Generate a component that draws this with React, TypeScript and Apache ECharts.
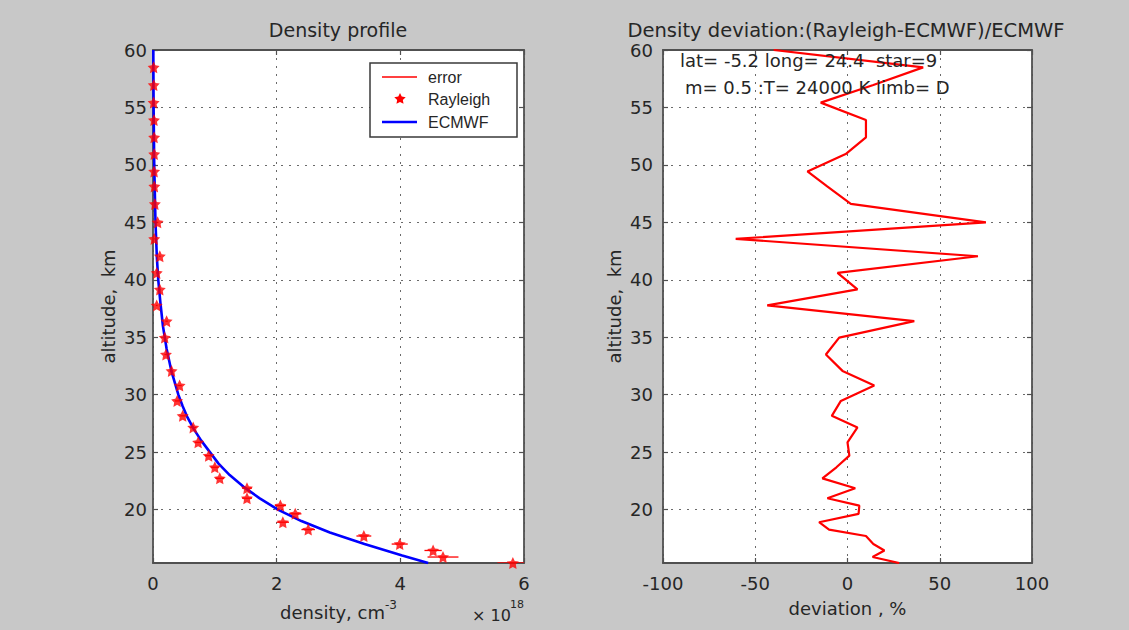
import React, { useEffect, useRef } from "react";
import * as echarts from "echarts";

// ---------- Data (density in units of 10^18 cm^-3, altitude in km) ----------
const ecmwfAlt = [15.35, 16, 17, 18, 19, 20, 21, 22, 23, 24, 25, 26, 27, 28, 29, 30, 32, 34, 36, 38, 40, 42, 45, 50, 55, 60];
const ecmwfDensity = [4.45, 4.03, 3.42, 2.86, 2.4, 2.02, 1.72, 1.46, 1.24, 1.06, 0.92, 0.78, 0.66, 0.56, 0.48, 0.41, 0.3, 0.22, 0.16, 0.12, 0.085, 0.062, 0.04, 0.02, 0.01, 0.005];

const rayAlt = [58.49, 56.95, 55.42, 53.9, 52.4, 50.94, 49.43, 48.13, 46.6, 45.0, 43.56, 42.05, 40.6, 39.16, 37.77, 36.4, 34.97, 33.5, 32.07, 30.8, 29.46, 28.16, 27.15, 25.85, 24.69, 23.68, 22.72, 21.86, 20.99, 20.35, 19.63, 18.9, 18.26, 17.7, 17.0, 16.44, 15.87, 15.35];
const rayDensity = [0.01, 0.012, 0.01, 0.016, 0.018, 0.02, 0.018, 0.022, 0.03, 0.075, 0.02, 0.11, 0.06, 0.11, 0.06, 0.22, 0.19, 0.21, 0.3, 0.43, 0.39, 0.48, 0.65, 0.73, 0.9, 1.0, 1.08, 1.52, 1.52, 2.06, 2.3, 2.1, 2.51, 3.41, 3.99, 4.53, 4.69, 5.82];
const rayError = [0.003, 0.003, 0.003, 0.004, 0.004, 0.005, 0.005, 0.006, 0.007, 0.01, 0.01, 0.012, 0.012, 0.015, 0.015, 0.02, 0.02, 0.025, 0.03, 0.035, 0.035, 0.04, 0.05, 0.05, 0.06, 0.06, 0.07, 0.08, 0.08, 0.09, 0.1, 0.1, 0.11, 0.12, 0.13, 0.14, 0.25, 0.25];

const devAlt = [60.0, 58.49, 56.95, 55.42, 53.9, 52.4, 50.94, 49.43, 48.13, 46.6, 45.0, 43.56, 42.05, 40.6, 39.16, 37.77, 36.4, 34.97, 33.5, 32.07, 30.8, 29.46, 28.16, 27.15, 25.85, 24.69, 23.68, 22.72, 21.86, 20.99, 20.35, 19.63, 18.9, 18.26, 17.7, 17.0, 16.44, 15.87, 15.35];
const devValue = [-40, 41, 14, -14.5, 10, 10, -1, -21.7, -11, 1.8, 75, -60.6, 70.7, -5.4, 5.4, -43.5, 36.2, -4.5, -11.7, -2.7, 14.5, -3.6, -8.5, 5.4, 0, 1, -6, -13.6, 4.2, -10.9, 6.4, 6, -15.4, -10, 10, 14, 20, 13.6, 28];

const altTicks = [20, 25, 30, 35, 40, 45, 50, 55, 60];

const ALT_MIN = 15.35;
const ALT_MAX = 60;

const STAR = "path://M0,-10 L2.9,-4 L9.5,-3.1 L4.7,1.5 L5.9,8.1 L0,5 L-5.9,8.1 L-4.7,1.5 L-9.5,-3.1 L-2.9,-4 Z";

const FONT = "'DejaVu Sans', Verdana, sans-serif";
const LFONT = "'Liberation Sans', Arial, Helvetica, sans-serif";
const TXT = "#262626";
const AX = "#505050";

export default function App() {
  const ref = useRef<HTMLDivElement>(null);

  useEffect(() => {
    if (!ref.current) return;
    const chart = echarts.init(ref.current, null, { renderer: "svg" });

    const axisLine = { show: true, onZero: false, lineStyle: { color: AX, width: 1.8 } };
    const tick = { show: true, inside: true, length: 5, lineStyle: { color: AX, width: 1.2 } };
    const grid = { show: true, lineStyle: { color: "#6a6a6a", width: 1, type: [2, 6] as any } };
    const label = { color: TXT, fontSize: 18, fontFamily: FONT };

    const yMain = (gridIndex: number, nameGap: number, margin: number) => ({
      type: "value",
      gridIndex,
      min: ALT_MIN,
      max: ALT_MAX,
      name: "altitude,  km",
      nameLocation: "middle",
      nameGap,
      nameTextStyle: { color: TXT, fontSize: 18, fontFamily: FONT },
      axisLine,
      axisTick: { ...tick, customValues: altTicks },
      axisLabel: { ...label, margin, customValues: altTicks },
      splitLine: { ...grid, customValues: altTicks },
    });
    const yBox = (gridIndex: number) => ({
      type: "value",
      gridIndex,
      position: "right",
      min: ALT_MIN,
      max: ALT_MAX,
      axisLine,
      axisTick: { ...tick, customValues: altTicks },
      axisLabel: { show: false, customValues: altTicks },
      splitLine: { show: false },
    });

    const graphic: any[] = [
      { type: "text", x: 338, y: 30, style: { text: "Density profile", fill: TXT, fontSize: 19, fontFamily: FONT, textAlign: "center", textVerticalAlign: "middle" } },
      { type: "text", x: 846, y: 30, style: { text: "Density deviation:(Rayleigh-ECMWF)/ECMWF", fill: TXT, fontSize: 19.5, fontFamily: FONT, textAlign: "center", textVerticalAlign: "middle" } },
      { type: "text", x: 680, y: 60, z: 10, style: { text: "lat= -5.2 long= 24.4  star=9", fill: TXT, fontSize: 18, fontFamily: FONT, textVerticalAlign: "middle" } },
      { type: "text", x: 685, y: 87, z: 10, style: { text: "m= 0.5 :T= 24000 K limb= D", fill: TXT, fontSize: 18, fontFamily: FONT, textVerticalAlign: "middle" } },
      { type: "text", x: 472, y: 615, style: { text: "× 10", fill: TXT, fontSize: 16, fontFamily: FONT, textVerticalAlign: "middle" } },
      { type: "text", x: 510, y: 604, style: { text: "18", fill: TXT, fontSize: 11, fontFamily: FONT, textVerticalAlign: "middle" } },
      // legend
      { type: "rect", z: 20, shape: { x: 370, y: 63, width: 147, height: 74 }, style: { fill: "#ffffff", stroke: "#3a3a3a", lineWidth: 1.5 } },
      { type: "line", z: 21, shape: { x1: 382, y1: 77, x2: 417, y2: 77 }, style: { stroke: "#ff0000", lineWidth: 1.3 } },
      { type: "text", z: 21, x: 428, y: 77, style: { text: "error", fill: TXT, fontSize: 16, fontFamily: LFONT, textVerticalAlign: "middle" } },
      {
        type: "polygon", z: 21, x: 400, y: 99, scaleX: 0.6, scaleY: 0.6,
        shape: { points: [[0, -10], [2.9, -4], [9.5, -3.1], [4.7, 1.5], [5.9, 8.1], [0, 5], [-5.9, 8.1], [-4.7, 1.5], [-9.5, -3.1], [-2.9, -4]] },
        style: { fill: "#ff0000" },
      },
      { type: "text", z: 21, x: 428, y: 99, style: { text: "Rayleigh", fill: TXT, fontSize: 16, fontFamily: LFONT, textVerticalAlign: "middle" } },
      { type: "line", z: 21, shape: { x1: 382, y1: 122, x2: 417, y2: 122 }, style: { stroke: "#0000ff", lineWidth: 2.6 } },
      { type: "text", z: 21, x: 428, y: 122, style: { text: "ECMWF", fill: TXT, fontSize: 16, fontFamily: LFONT, textVerticalAlign: "middle" } },
    ];

    const option: any = {
      animation: false,
      backgroundColor: "#c8c8c8",
      textStyle: { fontFamily: FONT },
      grid: [
        { left: 153, top: 50, width: 371, height: 513, show: true, backgroundColor: "#ffffff", borderWidth: 0 },
        { left: 663, top: 50, width: 369, height: 513, show: true, backgroundColor: "#ffffff", borderWidth: 0 },
      ],
      xAxis: [
        {
          type: "value", gridIndex: 0, min: 0, max: 6, interval: 2,
          name: "{n|density, cm}{s|-3}", nameLocation: "middle", nameGap: 36,
          nameTextStyle: {
            rich: {
              n: { fontSize: 18, color: TXT, fontFamily: FONT, lineHeight: 22, verticalAlign: "bottom" },
              s: { fontSize: 12, color: TXT, fontFamily: FONT, lineHeight: 22, verticalAlign: "top" },
            },
          },
          axisLine, axisTick: tick, axisLabel: { ...label, margin: 11 }, splitLine: grid,
        },
        {
          type: "value", gridIndex: 1, min: -100, max: 100, interval: 50,
          name: "deviation , %", nameLocation: "middle", nameGap: 36,
          nameTextStyle: { color: TXT, fontSize: 18, fontFamily: FONT },
          axisLine, axisTick: tick, axisLabel: { ...label, margin: 11 }, splitLine: grid,
        },
        { type: "value", gridIndex: 0, position: "top", min: 0, max: 6, interval: 2, axisLine, axisTick: tick, axisLabel: { show: false }, splitLine: { show: false } },
        { type: "value", gridIndex: 1, position: "top", min: -100, max: 100, interval: 50, axisLine, axisTick: tick, axisLabel: { show: false }, splitLine: { show: false } },
      ],
      yAxis: [yMain(0, 36, 6), yMain(1, 40, 10), yBox(0), yBox(1)],
      series: [
        {
          name: "error",
          type: "custom",
          xAxisIndex: 0,
          yAxisIndex: 0,
          clip: true,
          data: rayAlt.map((a, i) => [rayDensity[i], a, rayError[i]]),
          renderItem: (params: any, api: any) => {
            const x = api.value(0);
            const y = api.value(1);
            const e = api.value(2);
            const p1 = api.coord([x - e, y]);
            const p2 = api.coord([x + e, y]);
            return {
              type: "line",
              shape: { x1: p1[0], y1: p1[1], x2: p2[0], y2: p2[1] },
              style: { stroke: "#ff0000", lineWidth: 1.3 },
            };
          },
          z: 3,
        },
        {
          name: "ECMWF",
          type: "line",
          xAxisIndex: 0,
          yAxisIndex: 0,
          data: ecmwfAlt.map((a, i) => [ecmwfDensity[i], a]),
          showSymbol: false,
          symbol: "none",
          lineStyle: { color: "#0000ff", width: 2.6 },
          z: 4,
        },
        {
          name: "Rayleigh",
          type: "scatter",
          xAxisIndex: 0,
          yAxisIndex: 0,
          clip: false,
          data: rayAlt.map((a, i) => [rayDensity[i], a]),
          symbol: STAR,
          symbolSize: 12,
          itemStyle: { color: "#ff0000" },
          z: 5,
        },
        {
          name: "deviation",
          type: "line",
          xAxisIndex: 1,
          yAxisIndex: 1,
          data: devAlt.map((a, i) => [devValue[i], a]),
          showSymbol: false,
          symbol: "none",
          clip: true,
          lineStyle: { color: "#ff0000", width: 2.2 },
          z: 4,
        },
      ],
      graphic,
    };

    chart.setOption(option);
    return () => chart.dispose();
  }, []);

  return <div ref={ref} style={{ position: "fixed", left: 0, top: 0, width: 1129, height: 630 }} />;
}
